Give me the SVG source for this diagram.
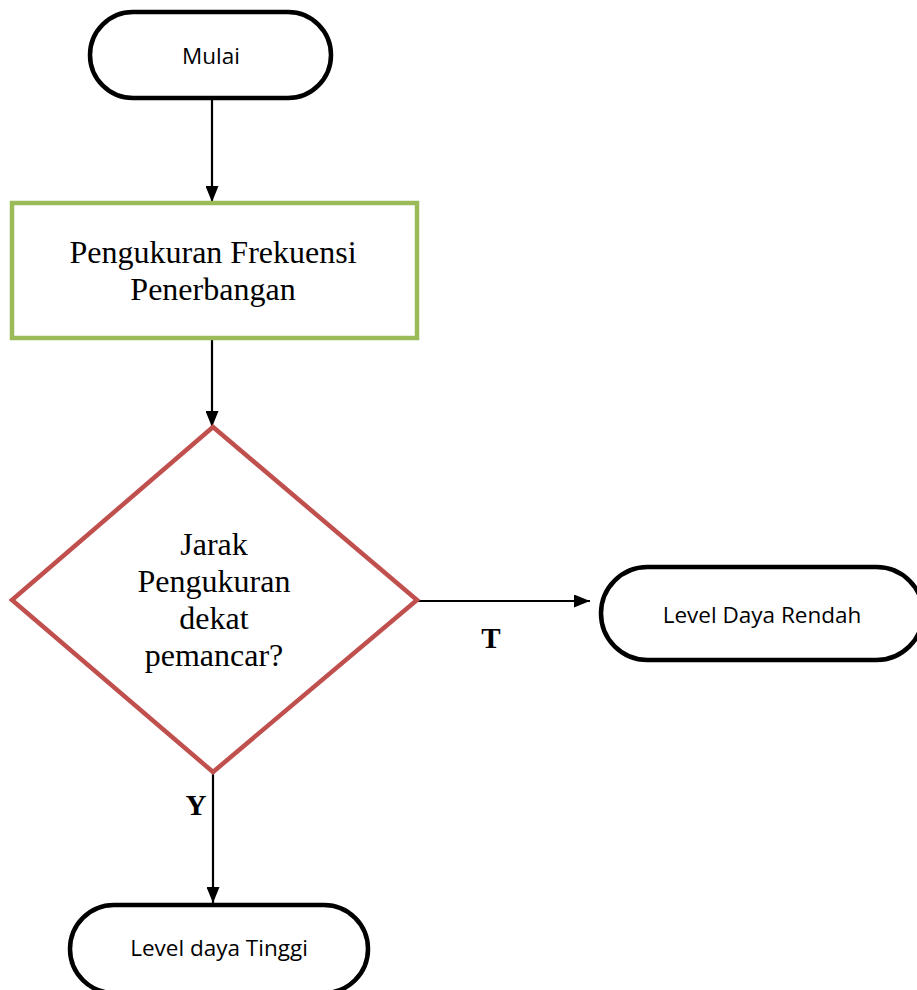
<svg xmlns="http://www.w3.org/2000/svg" width="917" height="990" viewBox="0 0 917 990">
  <defs>
    <marker id="arrow" markerWidth="16" markerHeight="13" refX="16" refY="6.5" orient="auto" markerUnits="userSpaceOnUse">
      <path d="M0,0 L16,6.5 L0,13 Z" fill="#000"/>
    </marker>
    <style>
      .terminal { fill: #fff; stroke: #000; stroke-width: 4.5; }
      .process { fill: #fff; stroke: #9bbb59; stroke-width: 4.5; }
      .decision { fill: #fff; stroke: #c0504d; stroke-width: 4.5; stroke-linejoin: miter; }
      .sans { font-family: "Open Sans", "Liberation Sans", sans-serif; font-size: 22.5px; fill: #000; text-anchor: middle; }
      .serif { font-family: "Liberation Serif", "Times New Roman", serif; font-size: 32px; fill: #000; text-anchor: middle; }
      .label { font-family: "Liberation Serif", "Times New Roman", serif; font-size: 29px; font-weight: bold; fill: #000; text-anchor: middle; }
      .conn { stroke: #000; stroke-width: 2.2; fill: none; marker-end: url(#arrow); }
    </style>
  </defs>
  <rect width="917" height="990" fill="#fff"/>

  <g id="connectors">
    <line class="conn" x1="212" y1="98" x2="212" y2="202"/>
    <line class="conn" x1="212" y1="340" x2="212" y2="427"/>
    <line class="conn" x1="417" y1="601" x2="590" y2="601"/>
    <line class="conn" x1="213" y1="772" x2="213" y2="903"/>
    <text class="label" x="491" y="648">T</text>
    <text class="label" x="196" y="815">Y</text>
  </g>

  <g id="start">
    <rect class="terminal" x="90" y="12" width="241" height="86" rx="43" ry="43"/>
    <text class="sans" x="211" y="64">Mulai</text>
  </g>

  <g id="measure">
    <rect class="process" x="12" y="203" width="405" height="135"/>
    <text class="serif" x="213" y="263">Pengukuran Frekuensi</text>
    <text class="serif" x="213" y="300">Penerbangan</text>
  </g>

  <g id="decision">
    <polygon class="decision" points="213,427 417,600 213,772 12,600"/>
    <text class="serif" x="214" y="555">Jarak</text>
    <text class="serif" x="214" y="592">Pengukuran</text>
    <text class="serif" x="214" y="629">dekat</text>
    <text class="serif" x="214" y="666">pemancar?</text>
  </g>

  <g id="low-power">
    <rect class="terminal" x="601" y="567" width="322" height="93" rx="46.5" ry="46.5"/>
    <text class="sans" x="762" y="623">Level Daya Rendah</text>
  </g>

  <g id="high-power">
    <rect class="terminal" x="70" y="905" width="298" height="88" rx="44" ry="44"/>
    <text class="sans" x="219" y="956">Level daya Tinggi</text>
  </g>
</svg>
